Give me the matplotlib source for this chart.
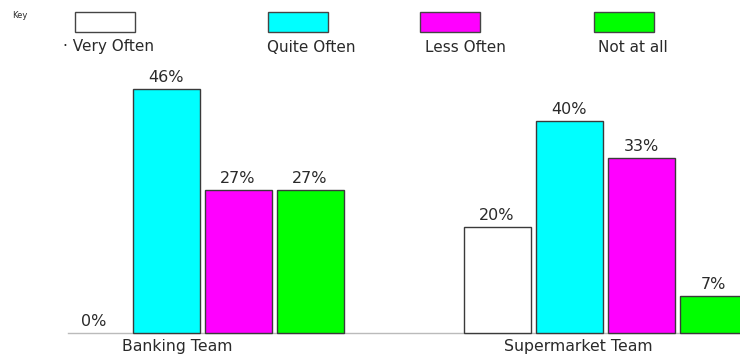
import matplotlib
matplotlib.use("Agg")
import matplotlib.pyplot as plt
from matplotlib.patches import Rectangle
import matplotlib.transforms as mtransforms

# Survey responses (% of each team)
teams = ["Banking Team", "Supermarket Team"]
responses = ["Very Often", "Quite Often", "Less Often", "Not at all"]
banking = [0, 46, 27, 27]
supermarket = [20, 40, 33, 7]
colors = ["#FFFFFF", "#00FFFF", "#FF00FF", "#00FF00"]

W, H = 740, 356
fig = plt.figure(figsize=(W / 100, H / 100), dpi=100)
fig.patch.set_facecolor("white")

base_px = 333
px_per_pct = 5.3
ax = fig.add_axes([0, (H - base_px) / H, 1, base_px / H])
ax.set_xlim(0, W)
ax.set_ylim(0, base_px / px_per_pct)
ax.axis("off")

group_centers = [202, 605]
slot = 72
bar_w = 67
edge = "#3a3a3a"
font = "DejaVu Sans"
txt = "#2a2a2a"

for g, vals in enumerate([banking, supermarket]):
    for j, v in enumerate(vals):
        x = group_centers[g] + (j - 1.5) * slot
        if v > 0:
            ax.bar(x, v, width=bar_w, color=colors[j], edgecolor=edge,
                   linewidth=1.0, zorder=2, clip_on=False)
        ax.annotate(f"{v}%", (x, v), xytext=(0, 3), textcoords="offset points",
                    ha="center", va="bottom", fontsize=11.5, color=txt,
                    family=font)

# baseline
ax.plot([68, W], [0, 0], color="#BBBBBB", lw=1.0, zorder=1, clip_on=False)

# team labels under the groups
trans = mtransforms.blended_transform_factory(ax.transData, fig.transFigure)
label_x = [177, 578]
for tx, name in zip(label_x, teams):
    ax.text(tx, 1 - 347 / H, name, transform=trans, ha="center", va="center",
            fontsize=11.3, color=txt, family=font)

# key
fig.text(12 / W, 1 - 16 / H, "Key", fontsize=6, color=txt,
         ha="left", va="center", family=font)
key_x = [75, 268, 420, 594]
text_x = [63, 267, 425, 598]
key_labels = ["\u00b7 Very Often", "Quite Often", "Less Often", "Not at all"]
for kx, tx, c, lab in zip(key_x, text_x, colors, key_labels):
    fig.patches.append(Rectangle((kx / W, 1 - 32 / H), 60 / W, 20 / H,
                                 transform=fig.transFigure, facecolor=c,
                                 edgecolor="#444444", linewidth=1.0))
    fig.text(tx / W, 1 - 47 / H, lab, fontsize=11, color=txt,
             ha="left", va="center", family=font)

fig.savefig("out.png", dpi=100, facecolor="white")
